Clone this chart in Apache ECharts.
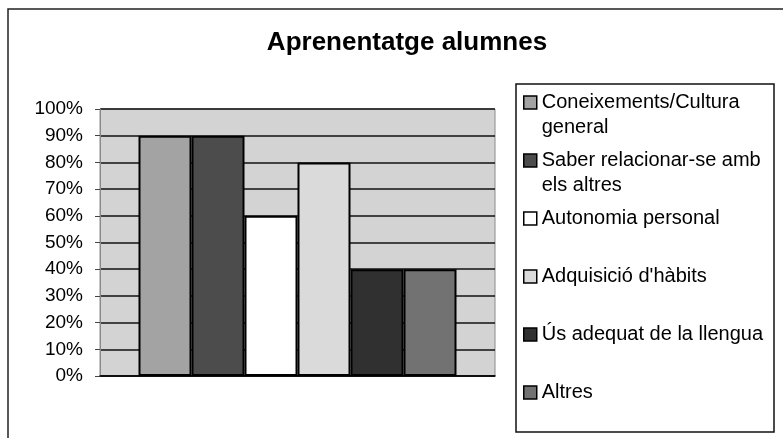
<!DOCTYPE html>
<html>
<head>
<meta charset="utf-8">
<script src="https://cdn.jsdelivr.net/npm/echarts@6/dist/echarts.min.js"></script>
<style>
  html, body { margin: 0; padding: 0; background: #fff; }
  #chart { width: 783px; height: 438px; }
</style>
</head>
<body>
<div id="chart"></div>
<script>
// series names as they appear in the legend (with the reference's line breaks)
const seriesNames = [
  'Coneixements/Cultura general',
  'Saber relacionar-se amb els altres',
  'Autonomia personal',
  "Adquisició d'hàbits",
  'Ús adequat de la llengua',
  'Altres'
]
const legendLines = [
  ['Coneixements/Cultura', 'general'],
  ['Saber relacionar-se amb', 'els altres'],
  ['Autonomia personal'],
  ["Adquisició d'hàbits"],
  ['Ús adequat de la llengua'],
  ['Altres']
]
const values = [90, 90, 60, 80, 40, 40]
const barColors = ['#a3a3a3', '#4c4c4c', '#ffffff', '#dadada', '#303030', '#727272']

const chart = echarts.init(document.getElementById('chart'))

const font = 'Liberation Sans, Arial, sans-serif'

chart.setOption({
  animation: false,
  title: {
    text: 'Aprenentatge alumnes',
    left: 402,
    textAlign: 'center',
    top: 25,
    textStyle: { fontFamily: font, fontSize: 26, fontWeight: 'bold', color: '#000' }
  },
  grid: {
    left: 100,
    right: 288,
    top: 109,
    bottom: 62,
    show: true,
    backgroundColor: '#d3d3d3',
    borderColor: '#8a8a8a',
    borderWidth: 1
  },
  legend: {
    orient: 'vertical',
    left: 523,
    top: 65,
    padding: 0,
    itemGap: -17,
    itemWidth: 13,
    itemHeight: 13,
    icon: 'rect',
    selectedMode: false,
    itemStyle: { borderColor: '#000', borderWidth: 1.5 },
    textStyle: { fontFamily: font, fontSize: 20, color: '#000', lineHeight: 25 },
    data: seriesNames,
    // pad each label to three lines so the icon sits beside the first text line
    formatter: (name) => {
      const lines = legendLines[seriesNames.indexOf(name)]
      return ['\u00a0', lines[0], lines[1] || '\u00a0'].join('\n')
    }
  },
  xAxis: {
    type: 'category',
    data: [''],
    axisLine: { lineStyle: { color: '#000', width: 1.5 } },
    axisTick: { show: false },
    axisLabel: { show: false }
  },
  yAxis: {
    type: 'value',
    min: 0,
    max: 100,
    interval: 10,
    axisLine: { show: true, lineStyle: { color: '#8a8a8a', width: 1 } },
    axisTick: { show: true, length: 5, lineStyle: { color: '#444' } },
    axisLabel: {
      formatter: '{value}%',
      fontFamily: font,
      fontSize: 19,
      color: '#000',
      margin: 17
    },
    splitLine: { lineStyle: { color: '#111', width: 1.5 } }
  },
  series: seriesNames.map((name, i) => ({
    name,
    type: 'bar',
    data: [values[i]],
    barWidth: 53,
    barGap: '0%',
    itemStyle: { color: barColors[i], borderColor: '#000', borderWidth: 2 }
  })),
  graphic: [
    {
      type: 'rect',
      shape: { x: 8, y: 9, width: 800, height: 450 },
      style: { fill: 'none', stroke: '#222', lineWidth: 1.5 },
      silent: true
    },
    {
      type: 'rect',
      shape: { x: 516, y: 84, width: 258, height: 348 },
      style: { fill: 'none', stroke: '#111', lineWidth: 1.5 },
      silent: true
    }
  ]
})
</script>
</body>
</html>
